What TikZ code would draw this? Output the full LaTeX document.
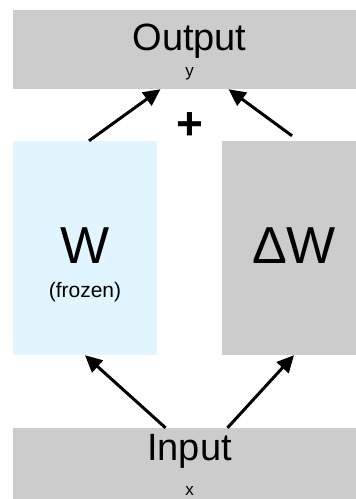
\documentclass[tikz,border=0pt]{standalone}
\usepackage{fontspec}
\setmainfont{Liberation Sans}
\usepackage{tikz}
\usetikzlibrary{arrows.meta}

\definecolor{boxgray}{HTML}{CCCCCC}
\definecolor{frozenblue}{HTML}{E1F5FE}

\begin{document}
\begin{tikzpicture}[
    x=1pt, y=-1pt,
    >={Triangle[length=17pt, width=16pt]},
    flow/.style={->, line width=3pt},
    wide/.style={fill=boxgray, minimum width=353pt, minimum height=79pt, inner sep=0pt},
    tall/.style={minimum width=144pt, minimum height=214pt, inner sep=0pt},
    big/.style={font=\fontsize{38}{40}\selectfont, inner sep=0pt},
    huge/.style={font=\fontsize{52}{54}\selectfont, inner sep=0pt},
    small/.style={font=\fontsize{17}{19}\selectfont, inner sep=0pt}
]
    \clip (0,0) rectangle (356,499);

    % boxes
    \node[wide] (output) at (189.5,49.5) {};
    \node[wide] (input) at (189.5,467.5) {};
    \node[tall, fill=frozenblue] (W) at (85,248) {};
    \node[tall, fill=boxgray] (dW) at (294,248) {};

    % texts
    \node[big] (outtxt) at (189.5,41) {Output};
    \node[small] (ytxt) at (189.5,74) {y};
    \node[big] (intxt) at (189.5,451) {Input};
    \node[small] (xtxt) at (189.5,491) {x};
    \node[huge] (Wtxt) at (85,246) {W};
    \node[font=\fontsize{21}{23}\selectfont, inner sep=0pt] (frozen) at (85,292) {(frozen)};
    \node[huge] (dWtxt) at (294,246) {ΔW};
    \node[font=\bfseries\fontsize{46}{48}\selectfont, inner sep=0pt] (plus) at (189.5,126) {+};

    % x goes through both branches
    \draw[flow] ([xshift=-24pt]input.north) -- (W.south);
    \draw[flow] ([xshift=38pt]input.north) -- (dW.south);

    % and the two results are added
    \draw[flow] ([xshift=4pt]W.north) -- ([xshift=-29pt]output.south);
    \draw[flow] ([xshift=-2pt, yshift=5pt]dW.north) -- ([xshift=39pt]output.south);
\end{tikzpicture}
\end{document}
